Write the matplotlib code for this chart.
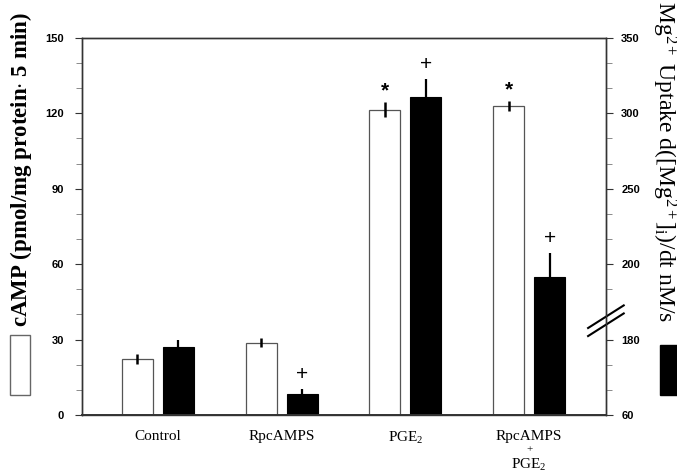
import numpy as np
import matplotlib
matplotlib.use("Agg")
import matplotlib.pyplot as plt
from matplotlib.patches import Rectangle

plt.rcParams['mathtext.fontset'] = 'custom'
plt.rcParams['mathtext.rm'] = 'Liberation Serif'
plt.rcParams['mathtext.it'] = 'Liberation Serif:italic'
plt.rcParams['mathtext.bf'] = 'Liberation Serif:bold'

groups = ["Control", "RpcAMPS", "PGE$_2$", "RpcAMPS"]
camp = [22.2, 28.8, 121.4, 123.0]          # pmol/mg protein . 5 min
camp_err = [2.0, 1.8, 3.0, 2.0]
mg = [168, 94, 310.5, 196.5]               # nM/s
mg_err = [11, 7, 12, 10.7]
camp_marks = ["", "", "*", "*"]
mg_marks = ["", "+", "+", "+"]

left_ticks = [0, 30, 60, 90, 120, 150]
right_ticklabels = ["60", "180", "200", "250", "300", "350"]

# broken right axis: mg value -> left axis units
mg_pts = [60, 180, 200, 350]
left_pts = [0, 30, 60, 150]


def mg2left(v):
    return np.interp(v, mg_pts, left_pts)


fig = plt.figure(figsize=(6.77, 4.74), dpi=100)
ax = fig.add_axes([0.121, 0.1245, 0.774, 0.7955])

x = np.arange(len(groups))
w = 0.25
off = 0.166
mg_l = mg2left(mg)
mg_top = mg2left(np.array(mg) + np.array(mg_err))

ax.bar(x - off, camp, w, color="white", edgecolor="#555555", linewidth=0.9, zorder=2)
ax.errorbar(x - off, camp, yerr=camp_err, fmt="none", ecolor="black", elinewidth=1.8, capsize=0, zorder=3)
ax.bar(x + off, mg_l, w, color="black", edgecolor="black", linewidth=0.8, zorder=2)
ax.errorbar(x + off, mg_l, yerr=[np.zeros(4), mg_top - mg_l], fmt="none", ecolor="black",
            elinewidth=1.6, capsize=0, zorder=3)

for i in range(len(groups)):
    if camp_marks[i]:
        ax.text(x[i] - off, camp[i] + camp_err[i] + 4.5, camp_marks[i], ha="center", va="center",
                fontsize=15, fontweight="bold", family="Liberation Sans")
    if mg_marks[i]:
        ax.text(x[i] + off, mg_top[i] + 6, mg_marks[i], ha="center", va="center",
                fontsize=15, family="Liberation Sans")

ax.set_xlim(-0.614, 3.62)
ax.set_ylim(0, 150)
ax.set_yticks(left_ticks)
ax.set_yticks(np.arange(0, 151, 10), minor=True)
ax.set_yticklabels([str(t) for t in left_ticks], fontsize=8, fontweight="bold", family="Liberation Sans")
ax.tick_params(axis="y", which="major", length=5, width=0.8, direction="out", colors="#333333",
               labelcolor="black", pad=8)
ax.tick_params(axis="y", which="minor", length=4.5, width=0.6, direction="out", colors="#777777")

ax.set_xticks(x)
ax.set_xticklabels(groups, fontsize=11, family="Liberation Serif")
ax.tick_params(axis="x", length=0, pad=11)
ax.text(x[3], -0.092, "+", transform=ax.get_xaxis_transform(), ha="center", va="center",
        fontsize=8, family="Liberation Serif")
ax.text(x[3], -0.133, "PGE$_2$", transform=ax.get_xaxis_transform(), ha="center", va="center",
        fontsize=11, family="Liberation Serif")

ax2 = ax.twinx()
ax2.set_ylim(0, 150)
ax2.set_yticks(left_ticks)
ax2.set_yticklabels(right_ticklabels, fontsize=8, fontweight="bold", family="Liberation Sans")
ax2.set_yticks([t for t in range(0, 151, 10) if t != 40], minor=True)
ax2.tick_params(axis="y", which="major", length=5, width=0.8, colors="#333333", labelcolor="black", pad=6)
ax2.tick_params(axis="y", which="minor", length=4.5, width=0.6, colors="#777777")

for a in (ax, ax2):
    for s in a.spines.values():
        s.set_linewidth(1.0)
        s.set_color("#333333")
ax.spines["bottom"].set_linewidth(1.4)

# break marks on right axis
tr = ax.get_yaxis_transform()
for dy in (1.6, -1.6):
    ax.plot([0.966, 1.034], [33 + dy, 42 + dy], color="black", lw=1.5, transform=tr,
            clip_on=False, zorder=5)

fig.text(0.031, 0.643, "cAMP (pmol/mg protein$\\cdot$ 5 min)", rotation=90, ha="center", va="center",
         fontsize=16.5, fontweight="bold", family="Liberation Serif")
fig.text(0.981, 0.66, "Mg$^{2+}$ Uptake d([Mg$^{2+}$]$_{\\mathrm{i}}$)/dt nM/s", rotation=-90,
         ha="center", va="center", fontsize=17, family="Liberation Serif")
fig.patches.append(Rectangle((10 / 677, 79 / 474), 20 / 677, 60 / 474, transform=fig.transFigure,
                             facecolor="white", edgecolor="#666666", lw=1.0))
fig.patches.append(Rectangle((660 / 677, 79 / 474), 17 / 677, 50 / 474, transform=fig.transFigure,
                             facecolor="black", edgecolor="black", lw=1.0))

fig.savefig("out.png", dpi=100)
